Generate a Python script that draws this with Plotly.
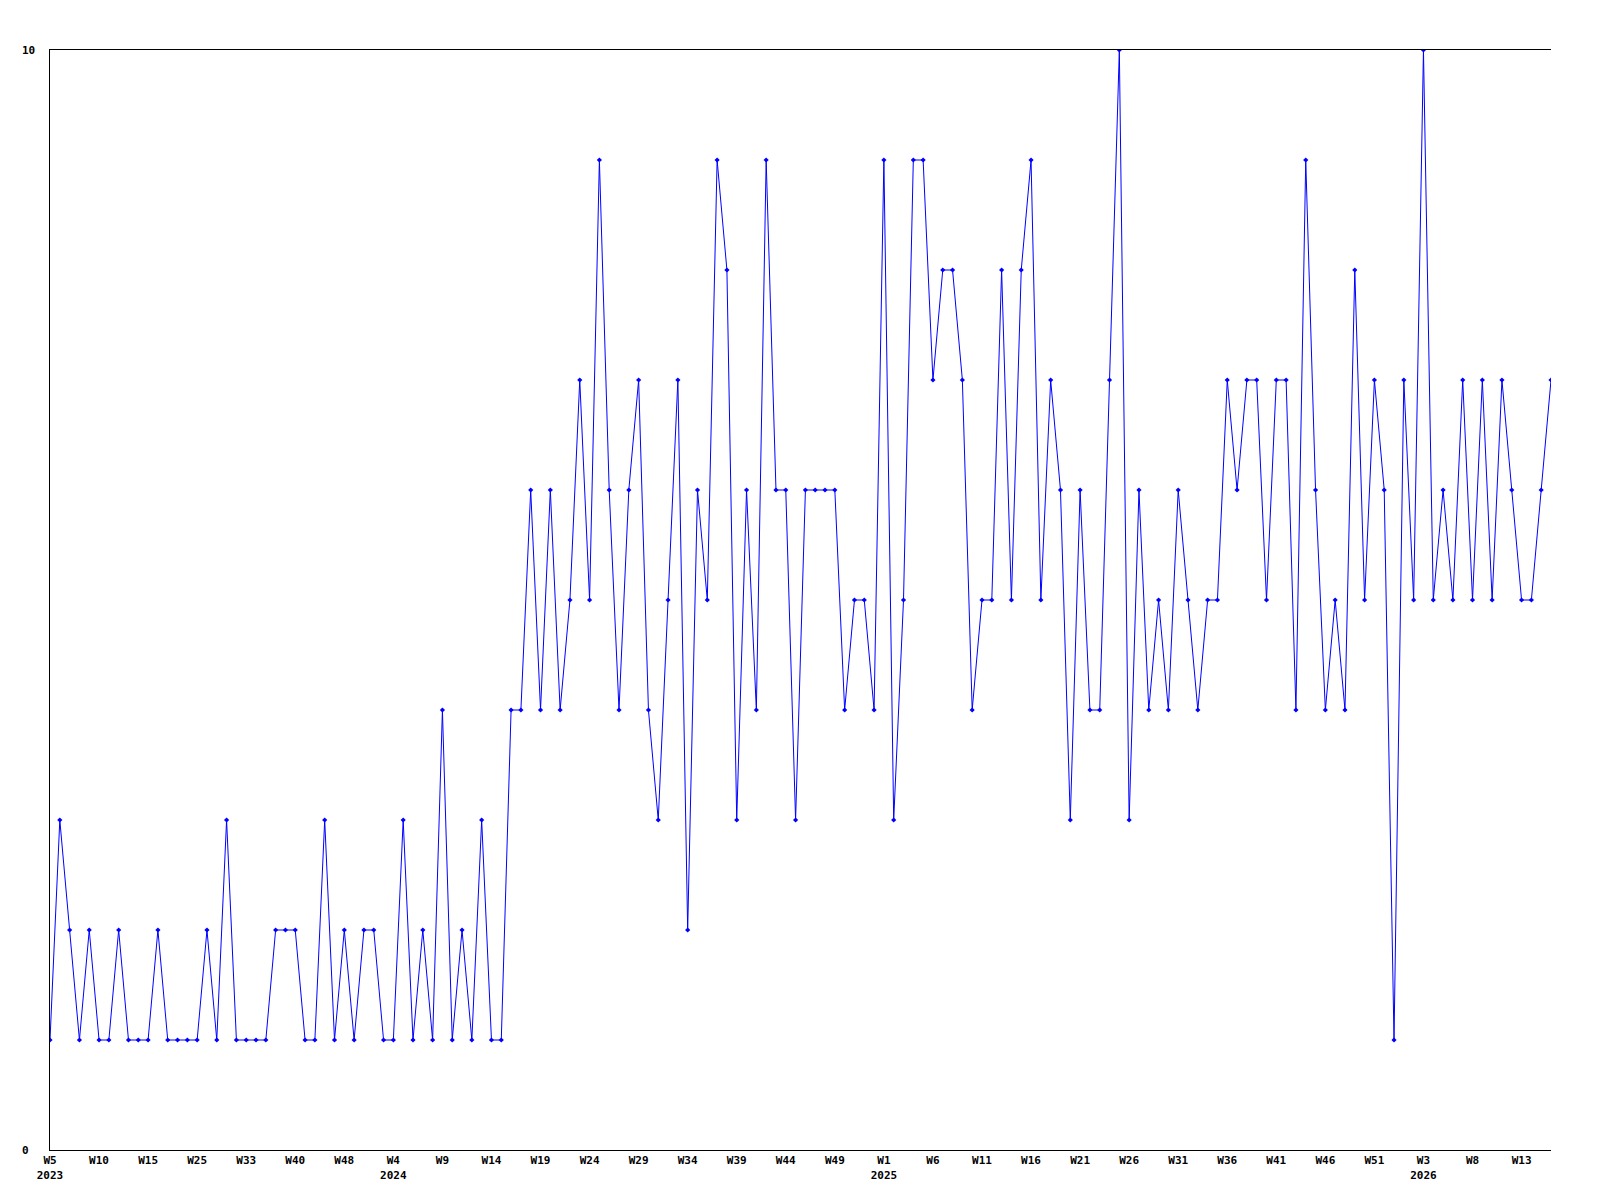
import plotly.graph_objects as go

# Weekly values (one point per week, 154 points)
values = [1, 3, 2, 1, 2, 1, 1, 2, 1, 1,
          1, 2, 1, 1, 1, 1, 2, 1, 3, 1,
          1, 1, 1, 2, 2, 2, 1, 1, 3, 1,
          2, 1, 2, 2, 1, 1, 3, 1, 2, 1,
          4, 1, 2, 1, 3, 1, 1, 4, 4, 6,
          4, 6, 4, 5, 7, 5, 9, 6, 4, 6,
          7, 4, 3, 5, 7, 2, 6, 5, 9, 8,
          3, 6, 4, 9, 6, 6, 3, 6, 6, 6,
          6, 4, 5, 5, 4, 9, 3, 5, 9, 9,
          7, 8, 8, 7, 4, 5, 5, 8, 5, 8,
          9, 5, 7, 6, 3, 6, 4, 4, 7, 10,
          3, 6, 4, 5, 4, 6, 5, 4, 5, 5,
          7, 6, 7, 7, 5, 7, 7, 4, 9, 6,
          4, 5, 4, 8, 5, 7, 6, 1, 7, 5,
          10, 5, 6, 5, 7, 5, 7, 5, 7, 6,
          5, 5, 6, 7]

# Tick labels every 5 weeks
week_labels = ["W5", "W10", "W15", "W25", "W33", "W40", "W48", "W4", "W9", "W14",
               "W19", "W24", "W29", "W34", "W39", "W44", "W49", "W1", "W6", "W11",
               "W16", "W21", "W26", "W31", "W36", "W41", "W46", "W51", "W3", "W8",
               "W13"]
year_labels = {0: "2023", 7: "2024", 17: "2025", 28: "2026"}
tick_step = 5

y_ticks = [0, 10]

x = list(range(len(values)))
tickvals = [i * tick_step for i in range(len(week_labels))]
ticktext = [lab + ("<br>" + year_labels[k] if k in year_labels else "")
            for k, lab in enumerate(week_labels)]

font_family = "DejaVu Sans Mono, Liberation Mono, monospace"

fig = go.Figure()
fig.add_trace(go.Scatter(
    x=x, y=values, mode="lines+markers",
    line=dict(color="#0000ff", width=1),
    marker=dict(symbol="diamond", size=4, color="#0000ff"),
    showlegend=False, hoverinfo="x+y",
))

fig.update_layout(
    width=1600, height=1200,
    margin=dict(l=42, r=57, t=42, b=58),
    paper_bgcolor="white", plot_bgcolor="white",
    font=dict(family=font_family, size=11, color="black"),
    xaxis=dict(
        range=[0, len(values) - 1], tickmode="array",
        tickvals=tickvals, ticktext=ticktext,
        showgrid=False, zeroline=False, showline=True, mirror=True,
        linecolor="black", linewidth=1, ticks="",
        tickfont=dict(family=font_family, size=11, color="black", weight="bold"),
    ),
    yaxis=dict(
        range=[0, 10], showgrid=False, zeroline=False, showline=True,
        linecolor="black", linewidth=1, ticks="", showticklabels=False,
    ),
)

for v in y_ticks:
    fig.add_annotation(
        xref="paper", yref="y", x=-0.02, y=v, text=str(v),
        showarrow=False, xanchor="left", yanchor="middle",
        font=dict(family=font_family, size=11, color="black", weight="bold"),
    )

fig.write_html("out.html")
